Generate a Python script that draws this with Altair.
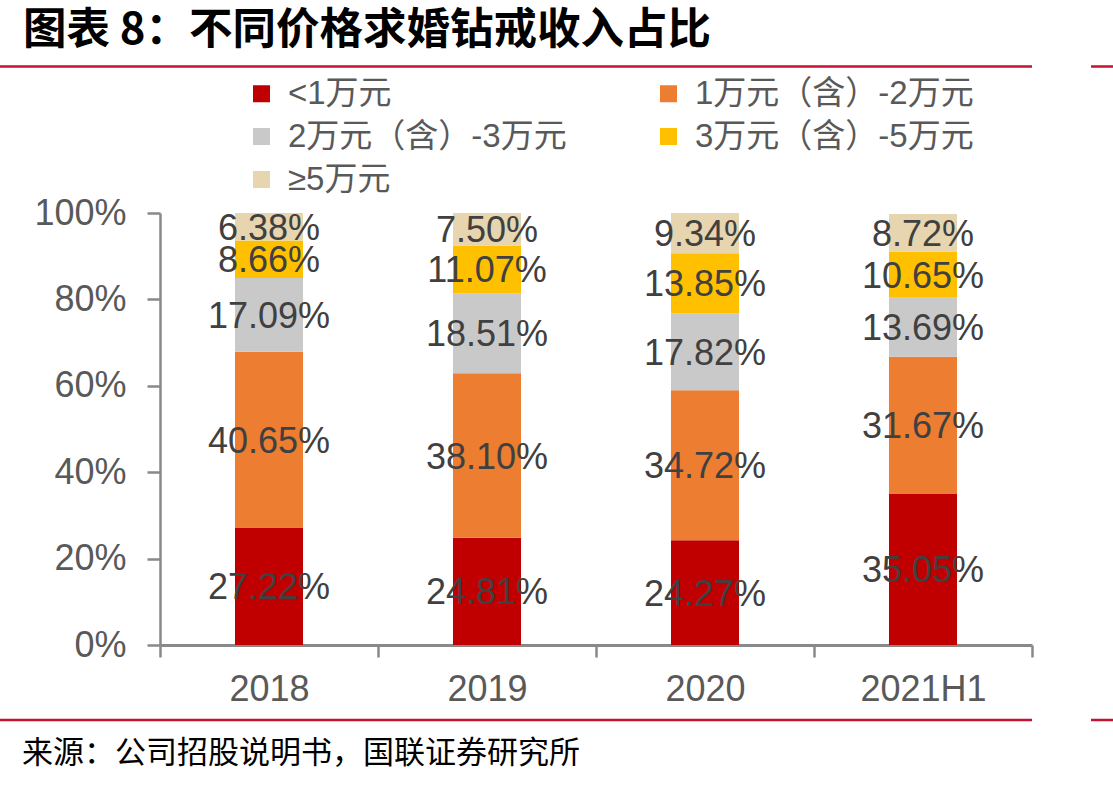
import altair as alt
import pandas as pd

# Revenue share of proposal diamond rings by price band (%)
years = ["2018", "2019", "2020", "2021H1"]
bands = ["<1万元", "1万元（含）-2万元", "2万元（含）-3万元", "3万元（含）-5万元", "≥5万元"]
below_1 = [27.22, 24.81, 24.27, 35.05]
from_1_to_2 = [40.65, 38.10, 34.72, 31.67]
from_2_to_3 = [17.09, 18.51, 17.82, 13.69]
from_3_to_5 = [8.66, 11.07, 13.85, 10.65]
above_5 = [6.38, 7.50, 9.34, 8.72]
y_ticks = [0, 20, 40, 60, 80, 100]

band_colors = ["#C00000", "#ED7D31", "#C9C9C9", "#FFC000", "#E6D5AF"]
axis_grey = "#898989"
text_grey = "#595959"
label_dark = "#404040"
accent_red = "#C41230"
latin_font = "Liberation Sans, Noto Sans CJK SC"
cjk_font = "Noto Sans CJK SC"

series = [below_1, from_1_to_2, from_2_to_3, from_3_to_5, above_5]
rows = []
for i, year in enumerate(years):
    base = 0.0
    for band, values in zip(bands, series):
        v = values[i]
        rows.append({
            "year": year,
            "band": band,
            "start": base,
            "end": base + v,
            "mid": base + v / 2,
            "label": f"{v:.2f}%",
        })
        base += v
df = pd.DataFrame(rows)

x_enc = alt.X(
    "year:N",
    sort=years,
    scale=alt.Scale(paddingInner=0, paddingOuter=0),
    axis=alt.Axis(
        title=None, labelAngle=0, grid=False,
        domainColor=axis_grey, domainWidth=3,
        tickColor=axis_grey, tickWidth=2.5, tickSize=12, tickBand="extent",
        labelFont=latin_font, labelFontSize=36, labelColor=text_grey, labelPadding=15,
    ),
)
y_scale = alt.Scale(domain=[0, 100], nice=False)
y_axis = alt.Axis(
    title=None, values=y_ticks, labelExpr="datum.value + '%'", grid=False,
    domainColor=axis_grey, domainWidth=2.5,
    tickColor=axis_grey, tickWidth=2.5, tickSize=13,
    labelFont=latin_font, labelFontSize=36, labelColor=text_grey, labelPadding=21,
)

bars = alt.Chart(df).mark_bar(strokeWidth=0, width=alt.RelativeBandSize(0.312)).encode(
    x=x_enc,
    y=alt.Y("start:Q", scale=y_scale, axis=y_axis),
    y2="end:Q",
    color=alt.Color(
        "band:N",
        scale=alt.Scale(domain=bands, range=band_colors),
        legend=alt.Legend(
            title=None, orient="none", legendX=85, legendY=-136, padding=0,
            direction="horizontal", columns=2, columnPadding=85, rowPadding=9,
            symbolType="square", symbolSize=289, symbolStrokeWidth=0, symbolOpacity=1,
            labelFont=latin_font, labelFontSize=33, labelColor=text_grey,
            labelOffset=10, labelLimit=500,
        ),
    ),
)

values_text = alt.Chart(df).mark_text(
    font=latin_font, fontSize=36, color=label_dark, align="center", baseline="middle", dy=2
).encode(
    x=x_enc,
    y=alt.Y("mid:Q", scale=y_scale, axis=y_axis),
    text="label:N",
)

one = pd.DataFrame({"k": [0]})

heading = alt.Chart(one).mark_text(
    text="图表 8：不同价格求婚钻戒收入占比", font=cjk_font, fontSize=43.5,
    fontWeight="bold", color="#000000", align="left", baseline="middle",
).encode(x=alt.value(-137), y=alt.value(-182))

source = alt.Chart(one).mark_text(
    text="来源：公司招股说明书，国联证券研究所", font=cjk_font, fontSize=31,
    color="#000000", align="left", baseline="middle",
).encode(x=alt.value(-138), y=alt.value(541))


def red_rule(x0, x1, y):
    return alt.Chart(one).mark_rule(color=accent_red, strokeWidth=2.5).encode(
        x=alt.value(x0), x2=alt.value(x1), y=alt.value(y)
    )


rules = [
    red_rule(-160, 872, -146.5),
    red_rule(931, 953, -146.5),
    red_rule(-160, 872, 507),
    red_rule(931, 953, 507),
]

chart = alt.layer(bars, values_text, heading, source, *rules).properties(
    width=872,
    height=432,
    autosize=alt.AutoSizeParams(type="none"),
    padding={"left": 160, "top": 213, "right": 81, "bottom": 142},
).configure_view(stroke=None)

chart.save("out.html", embed_options={"renderer": "svg", "actions": False})
